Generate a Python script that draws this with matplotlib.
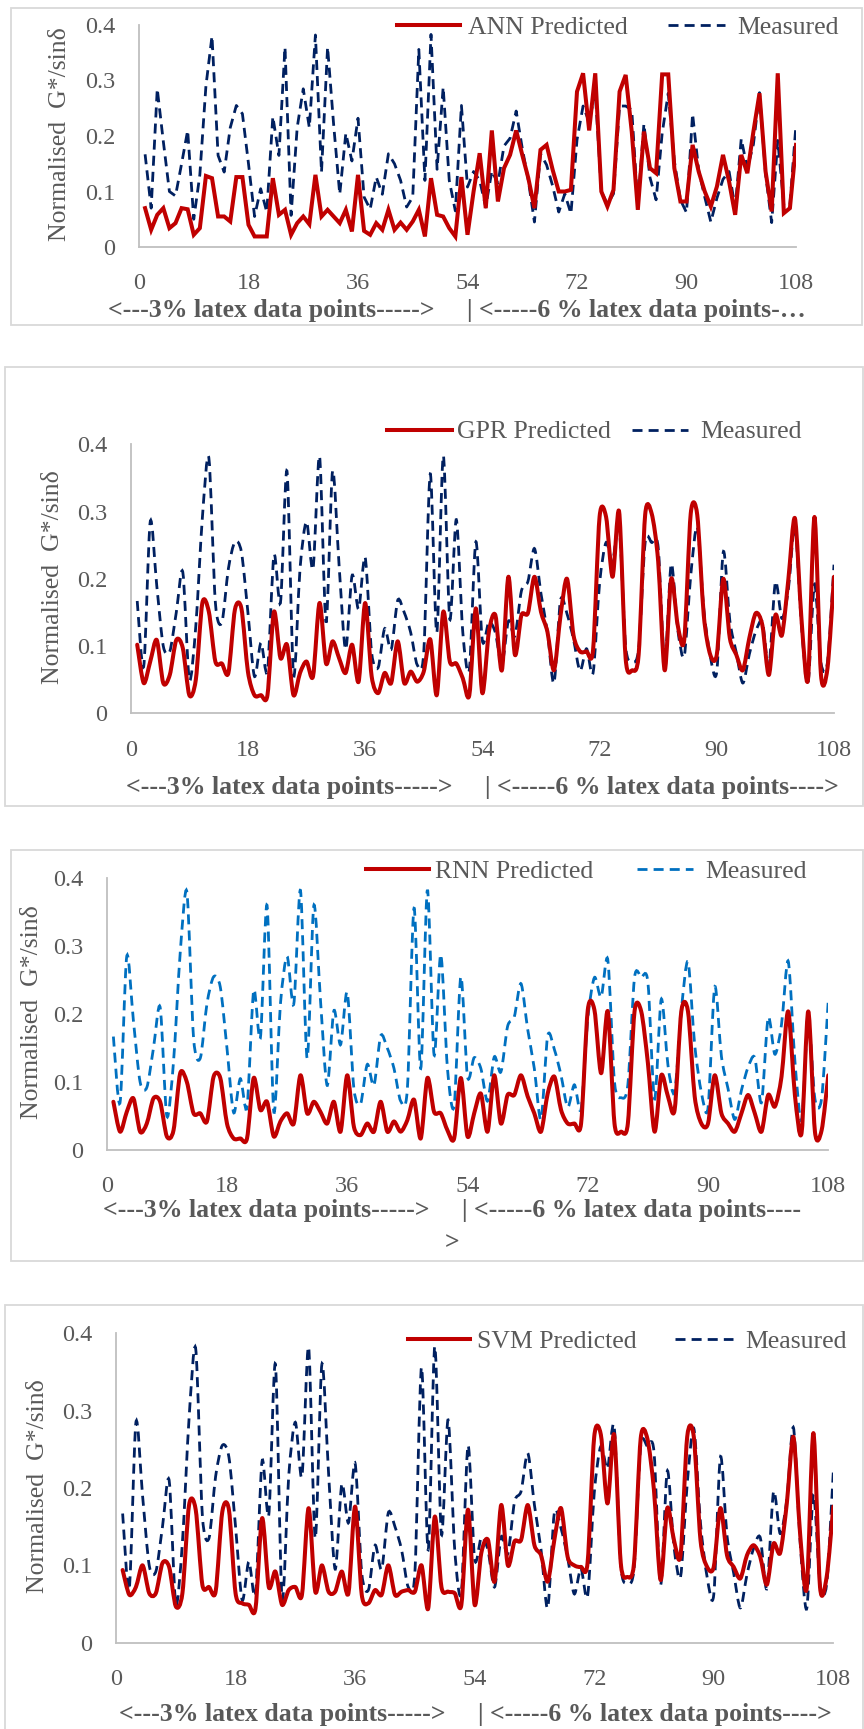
import numpy as np
import matplotlib
matplotlib.use("Agg")
import matplotlib.pyplot as plt
from matplotlib.path import Path
from matplotlib.patches import PathPatch, Rectangle
from matplotlib.lines import Line2D

plt.rcParams['font.family'] = ['Liberation Serif', 'DejaVu Serif']

# ---------------- data ----------------
points = np.arange(1, 109)

measured = [0.167, 0.07, 0.285, 0.19, 0.1, 0.092, 0.15, 0.21, 0.05, 0.13,
            0.29, 0.38, 0.165, 0.135, 0.215, 0.255, 0.24, 0.15, 0.055, 0.105,
            0.063, 0.235, 0.165, 0.36, 0.057, 0.215, 0.285, 0.215, 0.382, 0.135,
            0.36, 0.22, 0.095, 0.205, 0.155, 0.232, 0.09, 0.068, 0.126, 0.095,
            0.168, 0.15, 0.12, 0.072, 0.09, 0.356, 0.12, 0.383, 0.14, 0.288,
            0.12, 0.065, 0.255, 0.108, 0.136, 0.12, 0.072, 0.137, 0.115, 0.182,
            0.196, 0.245, 0.178, 0.12, 0.045, 0.168, 0.148, 0.11, 0.063, 0.096,
            0.06, 0.193, 0.254, 0.225, 0.28, 0.1, 0.077, 0.096, 0.254, 0.254,
            0.247, 0.075, 0.222, 0.125, 0.085, 0.205, 0.277, 0.155, 0.085, 0.062,
            0.24, 0.138, 0.09, 0.045, 0.088, 0.122, 0.136, 0.07, 0.195, 0.141,
            0.185, 0.278, 0.131, 0.044, 0.192, 0.075, 0.076, 0.221]

ann_pred = [0.07, 0.031, 0.058, 0.07, 0.034, 0.043, 0.07, 0.068, 0.022, 0.034,
            0.128, 0.124, 0.055, 0.055, 0.046, 0.126, 0.126, 0.04, 0.019, 0.019,
            0.019, 0.124, 0.058, 0.067, 0.022, 0.043, 0.055, 0.041, 0.13, 0.055,
            0.067, 0.055, 0.043, 0.067, 0.028, 0.13, 0.029, 0.022, 0.043, 0.031,
            0.067, 0.031, 0.044, 0.031, 0.046, 0.067, 0.019, 0.124, 0.058, 0.055,
            0.034, 0.019, 0.126, 0.022, 0.1, 0.169, 0.07, 0.21, 0.082, 0.142,
            0.166, 0.21, 0.166, 0.124, 0.07, 0.175, 0.184, 0.139, 0.1, 0.1,
            0.103, 0.28, 0.313, 0.21, 0.313, 0.1, 0.073, 0.103, 0.28, 0.31,
            0.208, 0.067, 0.208, 0.142, 0.133, 0.311, 0.311, 0.142, 0.082, 0.082,
            0.184, 0.136, 0.1, 0.073, 0.109, 0.166, 0.118, 0.058, 0.166, 0.133,
            0.208, 0.277, 0.136, 0.064, 0.313, 0.061, 0.07, 0.184]

gpr_pred = [0.102, 0.045, 0.077, 0.109, 0.045, 0.057, 0.109, 0.097, 0.027, 0.05,
            0.164, 0.151, 0.077, 0.074, 0.06, 0.154, 0.156, 0.062, 0.027, 0.027,
            0.027, 0.151, 0.082, 0.102, 0.027, 0.06, 0.077, 0.055, 0.164, 0.074,
            0.107, 0.082, 0.06, 0.102, 0.047, 0.164, 0.055, 0.03, 0.06, 0.045,
            0.107, 0.045, 0.062, 0.047, 0.062, 0.11, 0.027, 0.151, 0.077, 0.074,
            0.052, 0.027, 0.156, 0.03, 0.121, 0.146, 0.064, 0.203, 0.087, 0.146,
            0.149, 0.203, 0.151, 0.121, 0.064, 0.145, 0.2, 0.116, 0.092, 0.092,
            0.094, 0.292, 0.292, 0.203, 0.3, 0.082, 0.064, 0.087, 0.295, 0.297,
            0.226, 0.064, 0.2, 0.131, 0.109, 0.297, 0.295, 0.146, 0.087, 0.087,
            0.2, 0.112, 0.087, 0.064, 0.112, 0.149, 0.131, 0.057, 0.146, 0.116,
            0.2, 0.29, 0.141, 0.05, 0.292, 0.057, 0.067, 0.203]

rnn_pred = [0.071, 0.027, 0.056, 0.076, 0.027, 0.039, 0.076, 0.071, 0.02, 0.029,
            0.113, 0.1, 0.054, 0.054, 0.042, 0.108, 0.106, 0.039, 0.017, 0.017,
            0.017, 0.106, 0.059, 0.071, 0.02, 0.042, 0.054, 0.039, 0.11, 0.054,
            0.071, 0.056, 0.039, 0.071, 0.027, 0.11, 0.034, 0.022, 0.039, 0.027,
            0.071, 0.027, 0.042, 0.027, 0.044, 0.074, 0.017, 0.106, 0.056, 0.054,
            0.029, 0.017, 0.106, 0.02, 0.054, 0.083, 0.027, 0.11, 0.039, 0.081,
            0.081, 0.11, 0.079, 0.054, 0.027, 0.083, 0.108, 0.059, 0.039, 0.039,
            0.039, 0.206, 0.206, 0.113, 0.204, 0.039, 0.027, 0.039, 0.204, 0.204,
            0.128, 0.027, 0.11, 0.079, 0.059, 0.204, 0.204, 0.079, 0.039, 0.039,
            0.11, 0.054, 0.039, 0.027, 0.054, 0.081, 0.054, 0.027, 0.081, 0.064,
            0.108, 0.204, 0.081, 0.025, 0.204, 0.027, 0.029, 0.11]

svm_pred = [0.094, 0.062, 0.072, 0.1, 0.064, 0.064, 0.103, 0.098, 0.047, 0.064,
            0.178, 0.172, 0.075, 0.072, 0.066, 0.169, 0.172, 0.064, 0.051, 0.049,
            0.044, 0.161, 0.072, 0.092, 0.049, 0.068, 0.072, 0.062, 0.174, 0.066,
            0.1, 0.066, 0.066, 0.092, 0.064, 0.176, 0.062, 0.051, 0.068, 0.062,
            0.1, 0.062, 0.066, 0.068, 0.066, 0.1, 0.044, 0.163, 0.072, 0.066,
            0.064, 0.049, 0.172, 0.049, 0.116, 0.133, 0.079, 0.178, 0.1, 0.131,
            0.133, 0.178, 0.126, 0.113, 0.079, 0.133, 0.174, 0.111, 0.1, 0.098,
            0.103, 0.266, 0.269, 0.18, 0.269, 0.103, 0.085, 0.103, 0.264, 0.264,
            0.197, 0.081, 0.174, 0.133, 0.113, 0.266, 0.266, 0.133, 0.098, 0.098,
            0.174, 0.113, 0.098, 0.083, 0.113, 0.126, 0.111, 0.075, 0.128, 0.116,
            0.18, 0.266, 0.141, 0.07, 0.271, 0.072, 0.085, 0.176]

x_ticks = [0, 18, 36, 54, 72, 90, 108]
y_ticks = [0, 0.1, 0.2, 0.3, 0.4]
y_tick_labels = ["0", "0.1", "0.2", "0.3", "0.4"]
y_label = "Normalised  G*/sin\u03b4"
model_names = ["ANN Predicted", "GPR Predicted", "RNN Predicted", "SVM Predicted"]
x_labels = [
    "<---3% latex data points----->     | <-----6 % latex data points-\u2026",
    "<---3% latex data points----->     | <-----6 % latex data points---->",
    "<---3% latex data points----->     | <-----6 % latex data points----\n>",
    "<---3% latex data points----->     | <-----6 % latex data points---->",
]

# ---------------- styling ----------------
W, H = 864, 1729
RED = "#C00000"
NAVY = "#002060"
LIGHT_BLUE = "#0070C0"
TEXT_GREY = "#595959"
AXIS_GREY = "#BFBFBF"
FRAME_GREY = "#D9D9D9"
FS_TICK = 17.5
FS_TEXT = 18.5
TENSION = 0.14  # Bezier handle length for the smoothed lines

fig = plt.figure(figsize=(W / 100, H / 100), dpi=100)


def fx(px):
    return px / W


def fy(py):
    return 1 - py / H


def smooth_path(x, y):
    """Cubic Bezier path through the points (cardinal-spline smoothing)."""
    pts = np.column_stack([x, y]).astype(float)
    n = len(pts)
    verts = [pts[0]]
    codes = [Path.MOVETO]
    for i in range(n - 1):
        p0 = pts[i - 1] if i > 0 else pts[i]
        p1 = pts[i]
        p2 = pts[i + 1]
        p3 = pts[i + 2] if i + 2 < n else pts[i + 1]
        verts += [p1 + (p2 - p0) * TENSION, p2 - (p3 - p1) * TENSION, p2]
        codes += [Path.CURVE4] * 3
    return Path(verts, codes)


DASH = (0, (3.6, 2.2))

panels = [
    dict(pred=ann_pred, smooth=False, meas_color=NAVY,
         frame=(11, 8, 862, 325), ax=(139, 796, 25, 247),
         ylab_x=60, xlab=(457, 310),
         leg_y=25, leg=(397, 460, 468, 668, 725, 737)),
    dict(pred=gpr_pred, smooth=True, meas_color=NAVY,
         frame=(5, 367, 863, 806), ax=(130.7, 834, 444.3, 713.3),
         ylab_x=53, xlab=(482, 788),
         leg_y=430, leg=(387, 452, 457, 632, 688, 700)),
    dict(pred=rnn_pred, smooth=True, meas_color=LIGHT_BLUE,
         frame=(11, 850, 863, 1261), ax=(106.7, 828.3, 878.3, 1150),
         ylab_x=32, xlab=(452, 1227),
         leg_y=869, leg=(366, 429, 435, 637, 693, 705)),
    dict(pred=svm_pred, smooth=True, meas_color=NAVY,
         frame=(5, 1305, 863, 1740), ax=(116, 833.3, 1333.3, 1642.7),
         ylab_x=38, xlab=(475, 1715),
         leg_y=1339, leg=(408, 470, 477, 675, 733, 745)),
]

for k, p in enumerate(panels):
    # panel frame
    x0, y0, x1, y1 = p["frame"]
    fig.add_artist(Rectangle((fx(x0), fy(y1)), fx(x1 - x0), (y1 - y0) / H,
                             transform=fig.transFigure, fill=False,
                             edgecolor=FRAME_GREY, lw=1.3))

    ax_l, ax_r, ax_t, ax_b = p["ax"]
    ax = fig.add_axes([fx(ax_l), fy(ax_b), fx(ax_r - ax_l), (ax_b - ax_t) / H])
    ax.set_xlim(0, 108)
    ax.set_ylim(0, 0.4)
    ax.patch.set_visible(False)
    for s in ["top", "right"]:
        ax.spines[s].set_visible(False)
    for s in ["left", "bottom"]:
        ax.spines[s].set_color(AXIS_GREY)
        ax.spines[s].set_linewidth(1.3)
    ax.set_xticks(x_ticks)
    ax.set_xticklabels([str(t) for t in x_ticks])
    ax.set_yticks(y_ticks)
    ax.set_yticklabels(y_tick_labels)
    ax.tick_params(axis="both", length=0, labelsize=FS_TICK, colors=TEXT_GREY)
    ax.tick_params(axis="y", pad=17)
    ax.tick_params(axis="x", pad=19)

    if p["smooth"]:
        ax.add_patch(PathPatch(smooth_path(points, measured), fill=False,
                               edgecolor=p["meas_color"], lw=2.0,
                               linestyle=DASH, zorder=2))
        ax.add_patch(PathPatch(smooth_path(points, p["pred"]), fill=False,
                               edgecolor=RED, lw=2.9, zorder=3,
                               joinstyle="round", capstyle="round"))
    else:
        ax.plot(points, measured, color=p["meas_color"], lw=2.0,
                linestyle=DASH, zorder=2)
        ax.plot(points, p["pred"], color=RED, lw=2.9, zorder=3,
                solid_joinstyle="miter")

    # y-axis title
    fig.text(fx(p["ylab_x"]), fy((ax_t + ax_b) / 2 - 2), y_label,
             rotation=90, ha="center", va="center", fontsize=FS_TEXT,
             color=TEXT_GREY)

    # x-axis title
    xc, yc = p["xlab"]
    fig.text(fx(xc), fy(yc), x_labels[k], ha="center", va="center",
             fontsize=FS_TEXT, fontweight="bold", color=TEXT_GREY,
             linespacing=1.5)

    # legend
    ly = fy(p["leg_y"])
    r0, r1, t0, d0, d1, t1 = p["leg"]
    fig.add_artist(Line2D([fx(r0), fx(r1)], [ly, ly], transform=fig.transFigure,
                          color=RED, lw=2.9))
    fig.text(fx(t0), ly, model_names[k], ha="left", va="center_baseline",
             fontsize=FS_TEXT, color=TEXT_GREY)
    fig.add_artist(Line2D([fx(d0), fx(d1)], [ly, ly], transform=fig.transFigure,
                          color=p["meas_color"], lw=2.0, linestyle=DASH))
    fig.text(fx(t1), ly, "Measured", ha="left", va="center_baseline",
             fontsize=FS_TEXT, color=TEXT_GREY)

fig.savefig("out.png", dpi=100)
